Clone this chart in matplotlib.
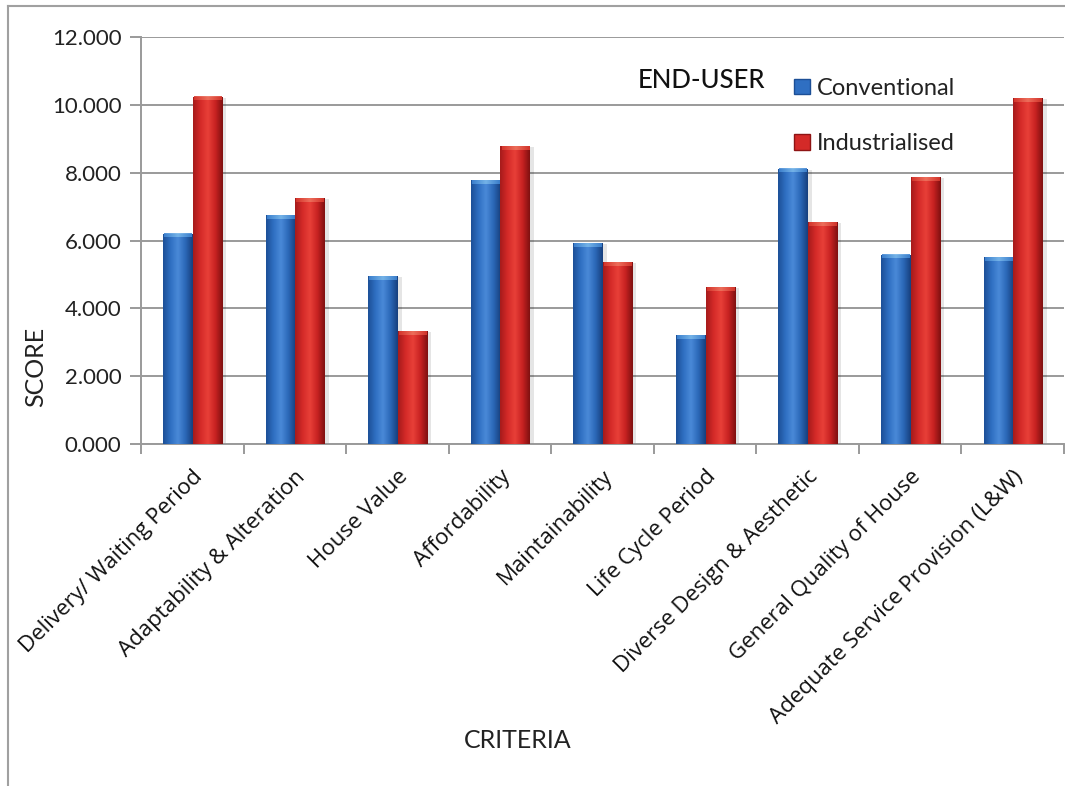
import numpy as np
import matplotlib
matplotlib.use("Agg")
import matplotlib.pyplot as plt
from matplotlib.colors import LinearSegmentedColormap
from matplotlib.lines import Line2D
from matplotlib.patches import Patch

# End-user scores per criterion
criteria = [
    "Delivery/ Waiting Period",
    "Adaptability & Alteration",
    "House Value",
    "Affordability",
    "Maintainability",
    "Life Cycle Period",
    "Diverse Design & Aesthetic",
    "General Quality of House",
    "Adequate Service Provision (L&W)",
]
conventional = [6.20, 6.74, 4.96, 7.78, 5.93, 3.21, 8.12, 5.58, 5.52]
industrialised = [10.24, 7.25, 3.33, 8.79, 5.36, 4.62, 6.55, 7.87, 10.20]

plt.rcParams["font.family"] = ["Lato", "DejaVu Sans"]

blue_cmap = LinearSegmentedColormap.from_list(
    "blue_cyl", ["#1c4f96", "#2f6fc2", "#4a8ad8", "#2b68b8", "#173f7c"])
red_cmap = LinearSegmentedColormap.from_list(
    "red_cyl", ["#a51b1b", "#d42a28", "#e84038", "#c82222", "#7e1010"])
blue_cap = LinearSegmentedColormap.from_list("blue_cap", ["#3f84d2", "#7ab8ea", "#3f84d2"])
red_cap = LinearSegmentedColormap.from_list("red_cap", ["#d8382e", "#ee7460", "#d8382e"])

fig = plt.figure(figsize=(10.65, 7.86), dpi=100)
ax = fig.add_axes([0.1324, 0.4351, 0.8667, 0.5178])

x = np.arange(len(criteria))
w = 0.29
grad = np.linspace(0, 1, 128)[None, :]


def shaded(bars, cmap, cap_cmap):
    for b in bars:
        x0, h, bw = b.get_x(), b.get_height(), b.get_width()
        # soft shadow to the right
        ax.bar(x0 + bw / 2 + 0.035, h - 0.03, bw, bottom=0.0, color="#000000",
               alpha=0.10, zorder=2, linewidth=0)
        im = ax.imshow(grad, extent=[x0, x0 + bw, 0, h], aspect="auto",
                       cmap=cmap, interpolation="bicubic", zorder=3.5)
        im.set_clip_path(b)
        cap_h = 0.11
        ax.imshow(grad, extent=[x0 + 0.01, x0 + bw - 0.01, h - cap_h, h], aspect="auto",
                  cmap=cap_cmap, interpolation="bicubic", zorder=3.6, alpha=0.9)


b1 = ax.bar(x - 0.14, conventional, w, color="#2f6fc2", zorder=3, linewidth=0)
b2 = ax.bar(x + 0.15, industrialised, w, color="#d42a28", zorder=3, linewidth=0)
shaded(b1, blue_cmap, blue_cap)
shaded(b2, red_cmap, red_cap)

ax.set_xlim(-0.5, len(criteria) - 0.5)
ax.set_ylim(0, 12)
ax.set_yticks(np.arange(0, 12.1, 2))
ax.set_yticklabels([f"{v:.3f}" for v in np.arange(0, 12.1, 2)], fontsize=16, color="#222222")
ax.yaxis.grid(True, color="#9a9a9a", linewidth=1.4, zorder=0)
ax.set_axisbelow(True)

ax.set_xticks(np.arange(-0.5, len(criteria) - 0.4, 1.0))
ax.set_xticklabels([])
ax.set_xticks(x, minor=True)
ax.set_xticklabels(criteria, minor=True, rotation=45, ha="right",
                   rotation_mode="anchor", fontsize=16, family=["Open Sans", "DejaVu Sans"],
                   color="#111111")
ax.tick_params(axis="x", which="minor", length=0, pad=16)
ax.tick_params(axis="x", which="major", length=7, color="#9a9a9a", width=1.4)
ax.tick_params(axis="y", length=8, color="#9a9a9a", width=1.4, pad=6)

for s in ["top", "right"]:
    ax.spines[s].set_visible(False)
for s in ["left", "bottom"]:
    ax.spines[s].set_color("#9a9a9a")
    ax.spines[s].set_linewidth(1.4)

fig.text(0.033, 0.533, "SCORE", rotation=90, ha="center", va="center",
         fontsize=18, color="#222222")
fig.text(0.486, 0.058, "CRITERIA", ha="center", va="center", fontsize=18, color="#222222")
fig.text(0.6585, 0.898, "END-USER", ha="center", va="center", fontsize=18.5,
         color="#111111", fontweight="medium")

handles = [Patch(facecolor="#2f6fc2", edgecolor="#1c4f96"),
           Patch(facecolor="#d42a28", edgecolor="#8e1414")]
fig.legend(handles, ["Conventional", "Industrialised"], loc="upper left",
           bbox_to_anchor=(0.726, 0.928), frameon=False, fontsize=17,
           handlelength=0.65, handleheight=0.65, handletextpad=0.3,
           labelspacing=1.45, labelcolor="#222222")

# outer chart frame (left and top edges)
fig.add_artist(Line2D([0.0075, 0.0075], [0.0, 0.993], color="#a0a0a0", linewidth=1.5))
fig.add_artist(Line2D([0.0075, 1.0], [0.993, 0.993], color="#a0a0a0", linewidth=1.5))

fig.savefig("out.png", dpi=100)
